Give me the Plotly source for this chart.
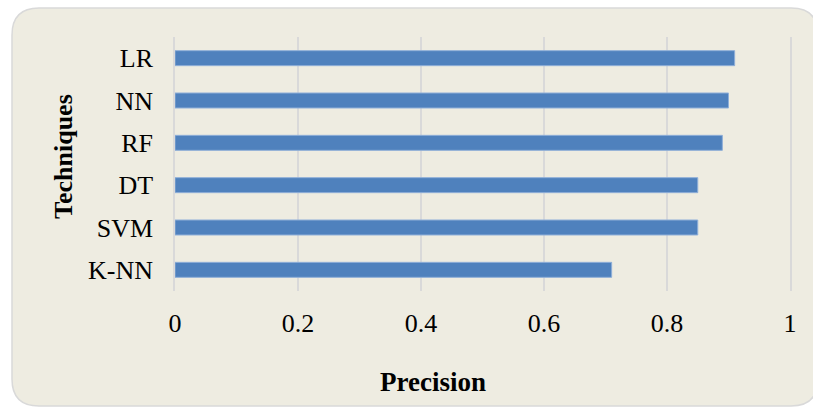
import plotly.graph_objects as go

# Precision of each classification technique
techniques = ["K-NN", "SVM", "DT", "RF", "NN", "LR"]
precision = [0.71, 0.85, 0.85, 0.89, 0.90, 0.91]
x_ticks = [0, 0.2, 0.4, 0.6, 0.8, 1]
x_tick_labels = ["0", "0.2", "0.4", "0.6", "0.8", "1"]

W, H = 813, 409
L, R, T, B = 175, 23, 37, 118
PW, PH = W - L - R, H - T - B


def px(x):
    return (x - L) / PW


def py(y):
    return (H - B - y) / PH


def rounded_rect(x0, y0, x1, y1, r):
    pts = [
        f"M {px(x0 + r)},{py(y0)}",
        f"L {px(x1 - r)},{py(y0)}",
        f"Q {px(x1)},{py(y0)} {px(x1)},{py(y0 + r)}",
        f"L {px(x1)},{py(y1 - r)}",
        f"Q {px(x1)},{py(y1)} {px(x1 - r)},{py(y1)}",
        f"L {px(x0 + r)},{py(y1)}",
        f"Q {px(x0)},{py(y1)} {px(x0)},{py(y1 - r)}",
        f"L {px(x0)},{py(y0 + r)}",
        f"Q {px(x0)},{py(y0)} {px(x0 + r)},{py(y0)}",
        "Z",
    ]
    return " ".join(pts)


font_family = "Liberation Serif, Times New Roman, serif"
grid_color = "#D9D9D9"

fig = go.Figure(
    go.Bar(
        x=precision,
        y=techniques,
        orientation="h",
        marker=dict(color="#4F81BD", line=dict(color="#8FAFD8", width=1)),
        hoverinfo="x+y",
    )
)

fig.update_layout(
    width=W,
    height=H,
    margin=dict(l=L, r=R, t=T, b=B, pad=0),
    paper_bgcolor="white",
    plot_bgcolor="rgba(0,0,0,0)",
    bargap=0.646,
    showlegend=False,
    font=dict(family=font_family, size=26, color="black"),
    shapes=[
        dict(
            type="path",
            xref="paper",
            yref="paper",
            path=rounded_rect(12, 8, 818, 406, 27),
            fillcolor="#EEECE1",
            line=dict(color=grid_color, width=1.5),
            layer="below",
        )
    ],
    annotations=[
        dict(
            text="<b>Precision</b>",
            xref="paper",
            yref="paper",
            x=px(433),
            y=py(382),
            xanchor="center",
            yanchor="middle",
            showarrow=False,
            font=dict(family=font_family, size=27, color="black"),
        ),
        dict(
            text="<b>Techniques</b>",
            xref="paper",
            yref="paper",
            x=px(63),
            y=py(156),
            xanchor="center",
            yanchor="middle",
            textangle=-90,
            showarrow=False,
            font=dict(family=font_family, size=26, color="black"),
        ),
    ],
)

fig.update_xaxes(
    range=[0, 1],
    tickvals=x_ticks,
    ticktext=x_tick_labels,
    showgrid=True,
    gridcolor=grid_color,
    gridwidth=1.5,
    zeroline=False,
    showline=False,
    ticks="",
    ticklabelstandoff=14,
    fixedrange=True,
)

# vertical lines at 0 and 1 come from the mirrored y-axis line
fig.update_yaxes(
    categoryorder="array",
    categoryarray=techniques,
    showgrid=False,
    zeroline=False,
    showline=True,
    mirror=True,
    linecolor=grid_color,
    linewidth=1.5,
    ticks="",
    ticklabelstandoff=15,
    fixedrange=True,
)

fig.write_html("out.html")
